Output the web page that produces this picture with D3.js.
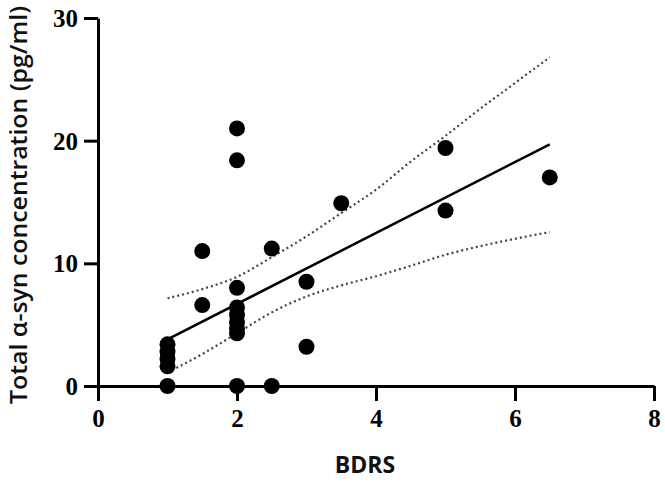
<!DOCTYPE html>
<html>
<head>
<meta charset="utf-8">
<title>BDRS vs total alpha-syn</title>
<script src="https://d3js.org/d3.v7.min.js"></script>
<style>
body { margin: 0; background: #fff; }
.axis path, .axis line { stroke: #000; stroke-width: 3px; }
.axis text { font-family: "Liberation Serif", serif; font-weight: bold; font-size: 25px; fill: #000; }
.title { font-family: "Open Sans", sans-serif; font-weight: 700; fill: #111; }
</style>
</head>
<body>
<svg id="chart" width="665" height="482"></svg>
<script>
// points (BDRS score, concentration pg/ml)
var bdrs = [1, 1, 1, 1, 1,
            1.5, 1.5,
            2, 2, 2, 2, 2, 2, 2, 2, 2,
            2.5, 2.5,
            3, 3,
            3.5,
            5, 5,
            6.5];
var conc = [3.4, 2.8, 2.2, 1.6, 0,
            11.0, 6.6,
            21.0, 18.4, 8.0, 6.4, 5.8, 5.2, 4.7, 4.3, 0,
            11.2, 0,
            8.5, 3.2,
            14.9,
            19.4, 14.3,
            17.0];

// regression line ends and 95% band
var fitX = [1, 6.5];
var fitY = [3.8, 19.7];
var bandX = [1, 1.5, 2, 2.5, 3, 3.5, 4, 4.5, 5, 5.5, 6, 6.5];
var bandUpper = [7.15, 7.9, 8.9, 10.5, 12.2, 14.1, 16.0, 18.3, 20.4, 22.6, 24.7, 26.8];
var bandLower = [1.1, 2.6, 4.3, 6.0, 7.3, 8.2, 8.95, 9.8, 10.7, 11.4, 12.0, 12.55];

var xTicks = [0, 2, 4, 6, 8];
var yTicks = [0, 10, 20, 30];

var svg = d3.select("#chart");

var x = d3.scaleLinear().domain([0, 8]).range([98, 654]);
var y = d3.scaleLinear().domain([0, 30]).range([386, 18]);

// axes
svg.append("g")
    .attr("class", "axis")
    .attr("transform", "translate(0," + y(0) + ")")
    .call(d3.axisBottom(x).tickValues(xTicks).tickSize(15).tickSizeOuter(0).tickPadding(8).tickFormat(d3.format("d")));

svg.append("g")
    .attr("class", "axis")
    .attr("transform", "translate(" + x(0) + ",0)")
    .call(d3.axisLeft(y).tickValues(yTicks).tickSize(14).tickSizeOuter(0).tickPadding(6).tickFormat(d3.format("d")))
  .selectAll("text")
    .attr("dy", "0.34em");

// confidence band (dotted)
var bandLine = function(vals) {
  return d3.line()
    .x(function (d, i) { return x(bandX[i]); })
    .y(function (d) { return y(d); })
    .curve(d3.curveMonotoneX)(vals);
};

[bandUpper, bandLower].forEach(function (vals) {
  svg.append("path")
      .attr("d", bandLine(vals))
      .attr("fill", "none")
      .attr("stroke", "#444")
      .attr("stroke-width", 2.2)
      .attr("stroke-dasharray", "2,3");
});

// fit line
svg.append("line")
    .attr("x1", x(fitX[0])).attr("y1", y(fitY[0]))
    .attr("x2", x(fitX[1])).attr("y2", y(fitY[1]))
    .attr("stroke", "#000")
    .attr("stroke-width", 2.5);

// points
svg.append("g").selectAll("circle")
    .data(bdrs)
  .enter().append("circle")
    .attr("cx", function (d) { return x(d); })
    .attr("cy", function (d, i) { return y(conc[i]); })
    .attr("r", 8)
    .attr("fill", "#000");

// axis titles
svg.append("text")
    .attr("class", "title")
    .attr("transform", "translate(27,205) rotate(-90)")
    .attr("text-anchor", "middle")
    .attr("textLength", 398)
    .attr("lengthAdjust", "spacingAndGlyphs")
    .style("font-size", "23px")
    .style("font-weight", 600)
    .text("Total \u03b1-syn concentration (pg/ml)");

svg.append("text")
    .attr("class", "title")
    .attr("x", 365)
    .attr("y", 473)
    .attr("text-anchor", "middle")
    .style("font-size", "23px")
    .text("BDRS");
</script>
</body>
</html>
